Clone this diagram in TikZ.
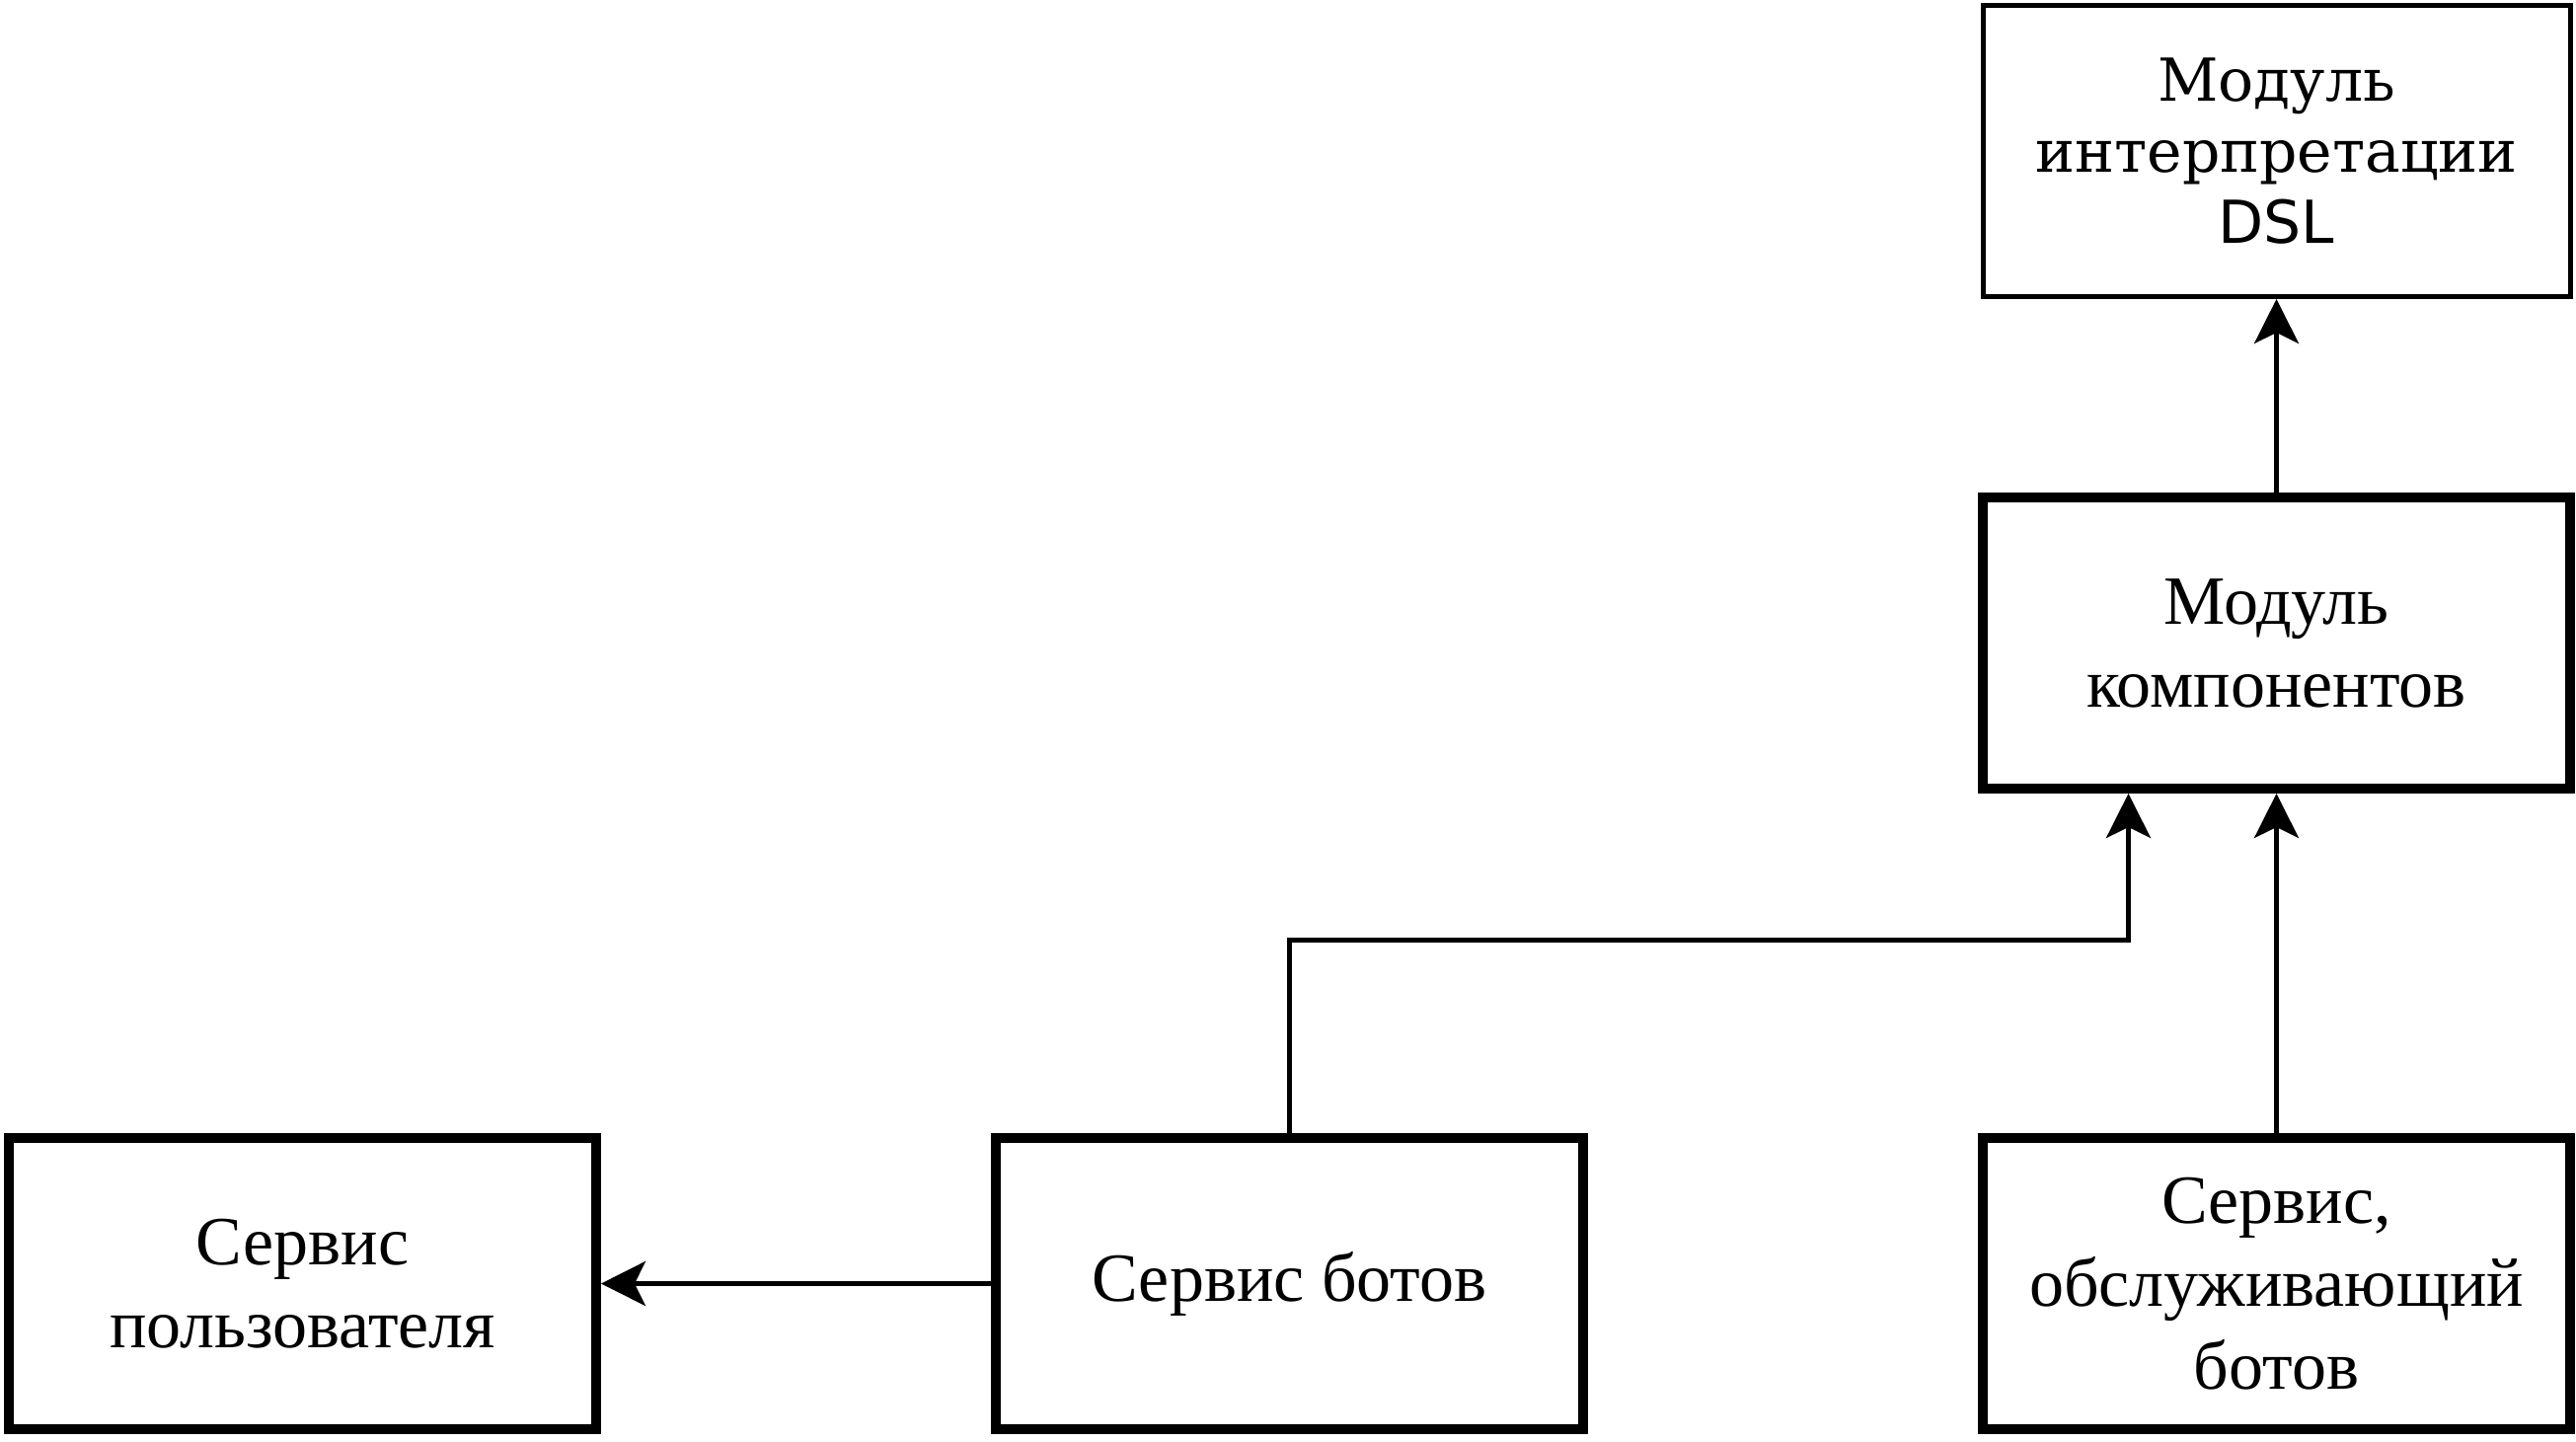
\documentclass[tikz,border=0pt]{standalone}
\usepackage{fontspec}
\setmainfont{Liberation Serif}
\newfontfamily\dslserif{DejaVu Serif}
\newfontfamily\dslsans{DejaVu Sans}
\usepackage{tikz}
\usetikzlibrary{arrows.meta}
\tikzset{
  modbox/.style={draw,line width=2pt,minimum width=119pt,minimum height=59pt,inner sep=0pt,align=center,font=\fontsize{14}{16.8}\selectfont},
  dslbox/.style={modbox,line width=1pt,font=\dslserif\fontsize{12}{14.4}\selectfont},
  link/.style={line width=1pt,-{Stealth[length=9pt,width=9pt,inset=2.2pt]}}
}

\begin{document}
\begin{tikzpicture}[x=1pt,y=1pt]
\useasboundingbox (0,0) rectangle (522,-292);
\node[dslbox] (dsl) at (461.3,-30.6) {Модуль\\интерпретации\\{\dslsans DSL}};
\node[modbox] (comp) at (461.3,-130.3) {Модуль\\компонентов};
\node[modbox] (user) at (61.3,-260.1) {Сервис\\пользователя};
\node[modbox] (bots) at (261.3,-260.1) {Сервис ботов};
\node[modbox] (serv) at (461.3,-260.1) {Сервис,\\обслуживающий\\ботов};
\coordinate (bend) at (261.3,-190.4);
\draw[link] (comp) -- (dsl);
\draw[link] (serv) -- (comp);
\draw[link] (bots) -- (user);
\draw[link] (bots.north) -- (bend) -| ([xshift=-30pt]comp.south);
\end{tikzpicture}
\end{document}
